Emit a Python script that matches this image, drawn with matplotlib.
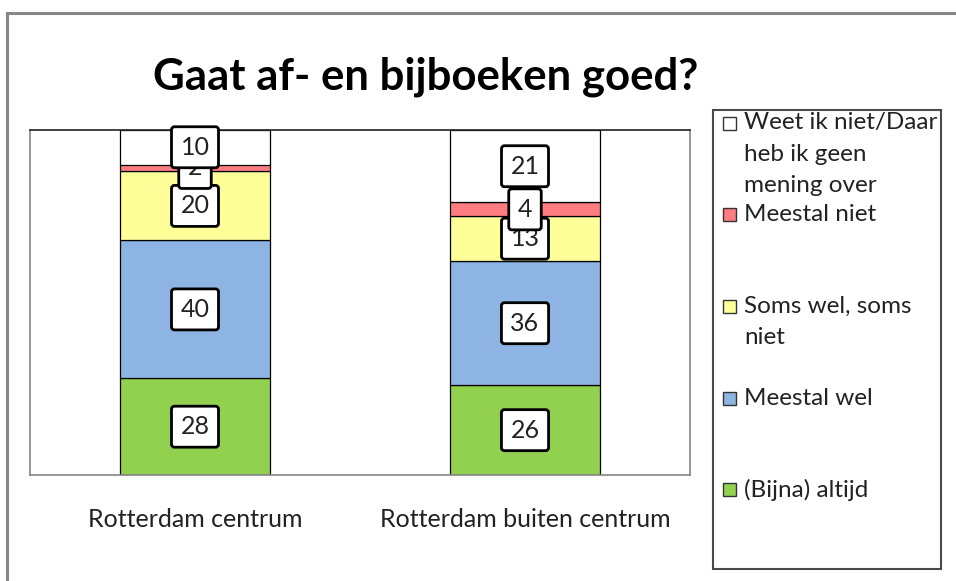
import matplotlib
matplotlib.use("Agg")
import matplotlib.pyplot as plt
from matplotlib.patches import Rectangle
from matplotlib.lines import Line2D

plt.rcParams['font.family'] = ['Lato', 'DejaVu Sans']

# ---- data ----
title = "Gaat af- en bijboeken goed?"
categories = ["Rotterdam centrum", "Rotterdam buiten centrum"]
series_names = ["(Bijna) altijd", "Meestal wel", "Soms wel, soms\nniet",
                "Meestal niet", "Weet ik niet/Daar\nheb ik geen\nmening over"]
series_values = [
    [28, 26],   # (Bijna) altijd
    [40, 36],   # Meestal wel
    [20, 13],   # Soms wel, soms niet
    [2, 4],     # Meestal niet
    [10, 21],   # Weet ik niet
]
series_colors = ["#92D050", "#8DB4E2", "#FFFF99", "#FF7C80", "#FFFFFF"]

W, H = 956, 581
fig = plt.figure(figsize=(W / 100, H / 100), dpi=100)

def fx(px):
    return px / W

def fy(py):
    return 1 - py / H

# outer frame (cropped)
fig.add_artist(Line2D([fx(7), fx(7)], [fy(13), fy(H + 5)], color="#878787", lw=2.2, transform=fig.transFigure))
fig.add_artist(Line2D([fx(7), fx(W + 5)], [fy(13), fy(13)], color="#878787", lw=2.2, transform=fig.transFigure))

ax_l, ax_r, ax_t, ax_b = 30, 690, 130, 475
ax = fig.add_axes([fx(ax_l), fy(ax_b), fx(ax_r - ax_l), (ax_b - ax_t) / H])

x = list(range(len(categories)))
bottoms = [0] * len(categories)
bar_w = 0.453
for i, (vals, col) in enumerate(zip(series_values, series_colors)):
    ax.bar(x, vals, bottom=bottoms, width=bar_w, color=col, edgecolor="black",
           linewidth=0.9, zorder=2)
    for j, v in enumerate(vals):
        ax.text(x[j], bottoms[j] + v / 2, str(v), ha="center", va="center",
                fontsize=18, color="#222222", zorder=5 + i,
                bbox=dict(boxstyle="round,pad=0.36,rounding_size=0.12", fc="white",
                          ec="black", lw=2.0))
    bottoms = [b + v for b, v in zip(bottoms, vals)]

ax.set_xlim(-0.5, len(categories) - 0.5)
ax.set_ylim(0, 100)
ax.set_yticks([])
ax.set_xticks(x)
ax.set_xticklabels(categories, fontsize=18, color="#222222")
ax.tick_params(axis="x", length=0, pad=24)
for s in ["left", "right", "bottom"]:
    ax.spines[s].set_color("#868686")
    ax.spines[s].set_linewidth(1.2)
ax.spines["top"].set_color("#222222")
ax.spines["top"].set_linewidth(1.2)

# title
fig.text(fx(426), fy(77), title, ha="center", va="center", fontsize=31.5,
         fontweight="bold", color="black")

# legend (manual, Excel-like)
lg_l, lg_r, lg_t, lg_b = 713, 941, 110, 569
fig.add_artist(Rectangle((fx(lg_l), fy(lg_b)), fx(lg_r - lg_l), (lg_b - lg_t) / H,
                         transform=fig.transFigure, fc="white", ec="#4a4a4a", lw=1.5))
first_y = 123
step = 91.7
line_step = 31.5
for k, idx in enumerate(reversed(range(len(series_names)))):
    yc = first_y + k * step
    fig.add_artist(Rectangle((fx(723), fy(yc + 6.5)), fx(13), 13 / H,
                             transform=fig.transFigure, fc=series_colors[idx],
                             ec="#333333", lw=1.0))
    for li, line in enumerate(series_names[idx].split("\n")):
        fig.text(fx(744), fy(yc + li * line_step), line, ha="left", va="center",
                 fontsize=17.5, color="#222222")

fig.savefig("out.png", dpi=100)
